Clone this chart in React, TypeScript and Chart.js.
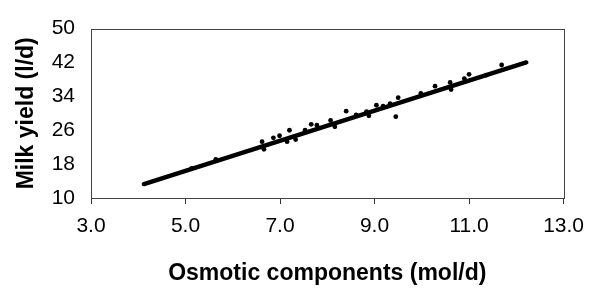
import React, { useEffect, useRef } from "react";
import { Chart, registerables } from "chart.js";

Chart.register(...registerables);

// Observed data points (osmotic components mol/d, milk yield l/d)
const obsX = [5.13, 5.64, 6.62, 6.66, 6.86, 6.99, 7.15, 7.2, 7.33, 7.53, 7.66, 7.78, 8.07, 8.16, 8.4, 8.61, 8.83, 8.88, 9.04, 9.18, 9.33, 9.45, 9.5, 9.98, 10.28, 10.6, 10.62, 10.9, 11.0, 11.36, 11.69];
const obsY = [17.0, 19.1, 23.3, 21.5, 24.2, 24.7, 23.3, 26.0, 23.8, 26.0, 27.4, 27.2, 28.3, 26.8, 30.5, 29.6, 30.4, 29.4, 31.9, 31.7, 32.3, 29.2, 33.7, 34.7, 36.4, 37.3, 35.6, 38.2, 39.2, 39.0, 41.4];

// Fitted regression line end points
const fitX = [4.12, 12.21];
const fitY = [13.3, 42.0];

const xTicks = [3, 5, 7, 9, 11, 13];
const yTicks = [10, 18, 26, 34, 42, 50];

const xTitle = "Osmotic components (mol/d)";
const yTitle = "Milk yield (l/d)";

const FONT = "'Liberation Sans', Arial, sans-serif";

const boxPlugin = {
  id: "plotBox",
  afterDraw(chart: any) {
    const { ctx, chartArea } = chart;
    ctx.save();
    ctx.strokeStyle = "#444";
    ctx.lineWidth = 1;
    ctx.strokeRect(
      Math.round(chartArea.left) + 0.5,
      Math.round(chartArea.top) + 0.5,
      Math.round(chartArea.right - chartArea.left),
      Math.round(chartArea.bottom - chartArea.top)
    );
    ctx.restore();
  },
};

export default function App() {
  const ref = useRef<HTMLCanvasElement>(null);

  useEffect(() => {
    if (!ref.current) return;
    const chart = new Chart(ref.current, {
      type: "scatter",
      data: {
        datasets: [
          {
            type: "line",
            data: fitX.map((x, i) => ({ x, y: fitY[i] })),
            borderColor: "#000",
            borderWidth: 4.5,
            borderCapStyle: "round",
            pointRadius: 0,
            fill: false,
          } as any,
          {
            type: "scatter",
            data: obsX.map((x, i) => ({ x, y: obsY[i] })),
            backgroundColor: "#000",
            borderColor: "#000",
            pointRadius: 2.4,
            borderWidth: 0,
          },
        ],
      },
      options: {
        animation: false,
        responsive: false,
        maintainAspectRatio: false,
        layout: { padding: { top: 18, right: 20, left: 0, bottom: 0 } },
        plugins: { legend: { display: false }, tooltip: { enabled: false } },
        scales: {
          x: {
            type: "linear",
            min: 3,
            max: 13,
            afterBuildTicks: (s: any) => {
              s.ticks = xTicks.map((v) => ({ value: v }));
            },
            afterFit: (s: any) => {
              s.height = 90;
            },
            ticks: {
              color: "#000",
              font: { family: FONT, size: 21 },
              padding: 10,
              maxRotation: 0,
              callback: (v: any) => Number(v).toFixed(1),
            },
            grid: {
              display: true,
              drawOnChartArea: false,
              drawTicks: true,
              tickLength: 6,
              color: "#333",
            },
            border: { display: false },
            title: {
              display: true,
              text: xTitle,
              color: "#000",
              font: { family: FONT, size: 23, weight: "bold" },
              padding: { top: 0, bottom: 1 },
            },
          },
          y: {
            type: "linear",
            min: 10,
            max: 50,
            afterBuildTicks: (s: any) => {
              s.ticks = yTicks.map((v) => ({ value: v }));
            },
            afterFit: (s: any) => {
              s.width = 91;
            },
            ticks: {
              color: "#000",
              font: { family: FONT, size: 21 },
              padding: 16,
            },
            grid: { display: false, drawTicks: false },
            border: { display: false },
            title: {
              display: true,
              text: yTitle,
              color: "#000",
              font: { family: FONT, size: 23, weight: "bold" },
              padding: { top: 13, bottom: 0 },
            },
          },
        },
      },
      plugins: [boxPlugin],
    });
    return () => chart.destroy();
  }, []);

  return (
    <div style={{ position: "fixed", left: 0, top: 0, width: 594, height: 288, background: "#fff" }}>
      <canvas ref={ref} width={594} height={288} style={{ width: 594, height: 288 }} />
    </div>
  );
}
